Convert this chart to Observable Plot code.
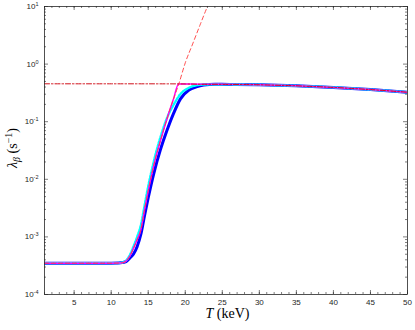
<!DOCTYPE html>
<html><head><meta charset="utf-8">
<script src="https://cdn.jsdelivr.net/npm/d3@7"></script>
<script src="https://cdn.jsdelivr.net/npm/@observablehq/plot@0.6"></script>
<style>body{margin:0;background:#fff}#chart svg{display:block}</style>
</head><body><div id="chart"></div>
<script>
// ---- data ----
const xMajorTicks = [5, 10, 15, 20, 25, 30, 35, 40, 45, 50];
const xMinorTicks = [1,2,3,4,5,6,7,8,9,10,11,12,13,14,15,16,17,18,19,20,21,22,23,24,25,26,27,28,29,30,31,32,33,34,35,36,37,38,39,40,41,42,43,44,45,46,47,48,49,50];
const yMajorTicks = [1e-4, 1e-3, 1e-2, 1e-1, 1, 10];
const yTickExponents = ["-4", "-3", "-2", "-1", "0", "1"];
const yMinorMultipliers = [2, 3, 4, 5, 6, 7, 8, 9];

// blue thick solid
const blueT = [1, 5, 10, 11, 11.5, 12, 12.5, 13, 13.5, 14, 14.5, 15, 15.75, 16.65, 17.55, 18.45, 19.35, 20.5, 21.5, 22.5, 24, 26, 30, 35, 40, 45, 50];
const blueV = [3.5e-4, 3.5e-4, 3.5e-4, 3.52e-4, 3.58e-4, 3.72e-4, 4.27e-4, 5.0e-4, 6.76e-4, 1.1e-3, 2.34e-3, 4.79e-3, 0.0126, 0.0327, 0.0718, 0.142, 0.249, 0.355, 0.403, 0.432, 0.445, 0.444, 0.437, 0.419, 0.394, 0.361, 0.325];

// cyan dotted
const cyanT = [1, 5, 10, 11, 11.5, 12, 12.5, 13, 13.5, 14, 14.5, 15, 15.5, 16, 16.65, 17.55, 18.45, 19.35, 20.5, 21.5, 22.5, 24, 26, 30, 35, 40, 45, 50];
const cyanV = [3.5e-4, 3.5e-4, 3.5e-4, 3.52e-4, 3.59e-4, 3.89e-4, 4.79e-4, 6.76e-4, 1.0e-3, 1.58e-3, 3.47e-3, 7.59e-3, 0.0148, 0.0275, 0.0537, 0.1175, 0.1995, 0.302, 0.389, 0.427, 0.442, 0.445, 0.444, 0.437, 0.419, 0.394, 0.361, 0.325];

// magenta solid
const magT = [1, 5, 10, 11, 11.5, 12, 12.5, 13, 13.5, 14, 14.5, 15, 15.5, 16, 16.65, 17.2, 17.73, 18.4, 19.1, 20, 22, 25, 30, 35, 40, 45, 50];
const magV = [3.5e-4, 3.5e-4, 3.5e-4, 3.51e-4, 3.55e-4, 3.8e-4, 4.57e-4, 6.31e-4, 8.91e-4, 1.32e-3, 2.95e-3, 6.31e-3, 0.0126, 0.0234, 0.0468, 0.0813, 0.135, 0.245, 0.452, 0.452, 0.447, 0.445, 0.437, 0.419, 0.394, 0.361, 0.325];

// red dashed (low-T approximation)
const redT = [1, 5, 10, 11, 11.5, 12, 12.5, 13, 13.5, 14, 14.5, 15, 15.5, 16, 16.65, 17.2, 17.73, 18.4, 19.1, 20, 21, 22, 23, 23.5];
const redV = [3.5e-4, 3.5e-4, 3.5e-4, 3.51e-4, 3.55e-4, 3.8e-4, 4.57e-4, 6.31e-4, 8.91e-4, 1.32e-3, 2.95e-3, 6.31e-3, 0.0126, 0.0234, 0.0468, 0.0813, 0.135, 0.245, 0.44, 1.05, 2.24, 4.79, 10.0, 13.8];

// dark red dash-dot (high-T approximation)
const ddT = [1, 10, 18, 20, 22, 25, 30, 35, 40, 45, 50];
const ddV = [0.455, 0.455, 0.454, 0.452, 0.447, 0.445, 0.437, 0.419, 0.394, 0.361, 0.325];

// ---- layout ----
const W = 415, H = 330, mL = 44, mR = 8, mT = 6, mB = 36;
const innerW = W - mL - mR, innerH = H - mT - mB;
const majorLen = 4, minorLen = 2;
const axisColor = "#262626";

const toRows = (T, V) => T.map((t, i) => ({T: t, v: V[i]}));
const yMinorTicks = yMajorTicks.slice(0, -1).flatMap(d => yMinorMultipliers.map(m => m * d));

const plot = Plot.plot({
  width: W, height: H,
  marginLeft: mL, marginRight: mR, marginTop: mT, marginBottom: mB,
  style: {fontFamily: "Liberation Sans, Arial, sans-serif", background: "#fff"},
  x: {domain: [1, 50]},
  y: {type: "log", domain: [1e-4, 10]},
  marks: [
    Plot.line(toRows(blueT, blueV), {x: "T", y: "v", stroke: "#0000ff", strokeWidth: 3, curve: "monotone-x", clip: true}),
    Plot.line(toRows(cyanT, cyanV), {x: "T", y: "v", stroke: "#00ffff", strokeWidth: 2.4, strokeDasharray: "1.6,1.6", curve: "monotone-x", clip: true}),
    Plot.line(toRows(magT, magV), {x: "T", y: "v", stroke: "#ff00ff", strokeWidth: 1.5, curve: "monotone-x", clip: true}),
    Plot.line(toRows(redT, redV), {x: "T", y: "v", stroke: "#ff3b3b", strokeWidth: 0.9, strokeDasharray: "4,3", curve: "monotone-x", clip: true}),
    Plot.line(toRows(ddT, ddV), {x: "T", y: "v", stroke: "#d0101a", strokeWidth: 1, strokeDasharray: "5,2,1.5,2", curve: "monotone-x", clip: true}),
    // inward ticks, bottom & top
    Plot.tickX(xMinorTicks, {x: d => d, insetTop: innerH - minorLen, stroke: axisColor, strokeWidth: 0.6}),
    Plot.tickX(xMajorTicks, {x: d => d, insetTop: innerH - majorLen, stroke: axisColor, strokeWidth: 0.6}),
    Plot.tickX(xMinorTicks, {x: d => d, insetBottom: innerH - minorLen, stroke: axisColor, strokeWidth: 0.6}),
    Plot.tickX(xMajorTicks, {x: d => d, insetBottom: innerH - majorLen, stroke: axisColor, strokeWidth: 0.6}),
    // inward ticks, left & right
    Plot.tickY(yMinorTicks, {y: d => d, insetRight: innerW - minorLen, stroke: axisColor, strokeWidth: 0.6}),
    Plot.tickY(yMajorTicks, {y: d => d, insetRight: innerW - majorLen, stroke: axisColor, strokeWidth: 0.6}),
    Plot.tickY(yMinorTicks, {y: d => d, insetLeft: innerW - minorLen, stroke: axisColor, strokeWidth: 0.6}),
    Plot.tickY(yMajorTicks, {y: d => d, insetLeft: innerW - majorLen, stroke: axisColor, strokeWidth: 0.6}),
    Plot.frame({stroke: axisColor, strokeWidth: 0.8}),
    Plot.axisX(xMajorTicks, {anchor: "bottom", tickSize: 0, tickPadding: 5, fontSize: 8, fill: axisColor, label: null}),
    Plot.axisY(yMajorTicks, {anchor: "left", tickSize: 0, tickPadding: 6, fontSize: 8, fill: axisColor, label: null,
      tickFormat: d => "10^" + yTickExponents[yMajorTicks.indexOf(d)]})
  ]
});

const svg = d3.select(plot);
// superscript exponents on y tick labels
svg.selectAll("text").each(function() {
  const t = d3.select(this);
  const s = t.text();
  if (s.startsWith("10^")) {
    const exp = s.slice(3);
    t.text("10");
    t.append("tspan").attr("dy", "-0.55em").attr("font-size", "5.5px").text(exp);
  }
});

// axis titles
const serif = "Liberation Serif, DejaVu Serif, serif";
const xl = svg.append("text")
  .attr("x", mL + innerW / 2 + 2).attr("y", 318)
  .attr("text-anchor", "middle").attr("font-family", serif).attr("font-size", 14).attr("fill", "#000");
xl.append("tspan").attr("font-style", "italic").text("T");
xl.append("tspan").text(" (keV)");

const yl = svg.append("text")
  .attr("transform", `translate(17,${mT + innerH / 2 - 2}) rotate(-90)`)
  .attr("text-anchor", "middle").attr("font-family", serif).attr("font-size", 14).attr("fill", "#000");
yl.append("tspan").attr("font-style", "italic").text("λ");
yl.append("tspan").attr("font-style", "italic").attr("font-size", 10).attr("dy", "3").text("β");
yl.append("tspan").attr("dy", "-3").text(" (s");
yl.append("tspan").attr("font-size", 10).attr("dy", "-5").text("−1");
yl.append("tspan").attr("dy", "5").text(")");

document.getElementById("chart").appendChild(plot);
</script>
</body></html>
